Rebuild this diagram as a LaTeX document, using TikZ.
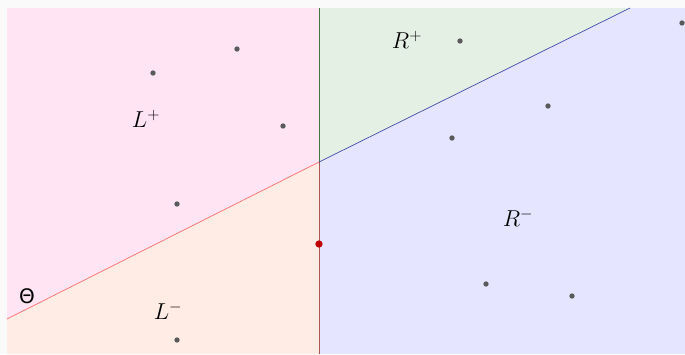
\documentclass[tikz,border=0pt]{standalone}
\usepackage{fontspec}
\newfontfamily\dejavu{DejaVu Sans}
\definecolor{bgm}{RGB}{250,250,250}
\definecolor{pinkf}{RGB}{255,228,243}
\definecolor{orangef}{RGB}{255,237,229}
\definecolor{greenf}{RGB}{229,240,229}
\definecolor{bluef}{RGB}{229,229,255}
\definecolor{ptc}{RGB}{90,90,90}
\definecolor{redpt}{RGB}{190,0,0}
\definecolor{bluel}{RGB}{60,70,170}
\tikzset{
  pt/.style={circle,fill=ptc,inner sep=0pt,minimum size=4pt},
  lab/.style={font=\fontsize{17}{20}\selectfont},
}
\begin{document}
\begin{tikzpicture}[x=0.75pt,y=-0.75pt]
\useasboundingbox (0,0) rectangle (685,354);
\fill[bgm] (0,0) rectangle (685,354);
% regions
\coordinate (tl) at (7,8);
\coordinate (tm) at (319,8);
\coordinate (tr) at (685,8);
\coordinate (bl) at (7,354);
\coordinate (bm) at (319,354);
\coordinate (br) at (685,354);
\coordinate (lo) at (7,319);
\coordinate (c) at (319,162);
\coordinate (hi) at (630,8);
\fill[pinkf] (tl) -- (tm) -- (c) -- (lo) -- cycle;
\fill[orangef] (lo) -- (c) -- (bm) -- (bl) -- cycle;
\fill[greenf] (tm) -- (hi) -- (c) -- cycle;
\fill[bluef] (hi) -- (tr) -- (br) -- (bm) -- (c) -- cycle;
% lines
\draw[line width=0.6pt,gray!70!green!70!black] (tm) -- (c);
\draw[line width=0.6pt,red!35!gray] (c) -- (bm);
\draw[line width=0.5pt,red!60] (lo) -- (c);
\draw[line width=0.5pt,bluel] (c) -- (hi);
% points
\node[pt] (p1) at (237,49) {};
\node[pt] (p2) at (153,73) {};
\node[pt] (p3) at (283,126) {};
\node[pt] (p4) at (177,204) {};
\node[pt] (p5) at (177,340) {};
\node[pt] (p6) at (460,41) {};
\node[pt] (p7) at (548,106) {};
\node[pt] (p8) at (452,138) {};
\node[pt] (p9) at (682,23) {};
\node[pt] (p10) at (486,284) {};
\node[pt] (p11) at (572,296) {};
\node[circle,fill=redpt,inner sep=0pt,minimum size=5.5pt] (q) at (319,244) {};
% labels
\node[lab] (lp) at (146,119) {$L^{+}$};
\node[lab] (rp) at (407,40) {$R^{+}$};
\node[lab] (rm) at (518,218) {$R^{-}$};
\node[lab] (lm) at (168,311) {$L^{-}$};
\node (th) at (27,296) {\dejavu\fontsize{15}{18}\selectfont Θ};
\end{tikzpicture}
\end{document}
